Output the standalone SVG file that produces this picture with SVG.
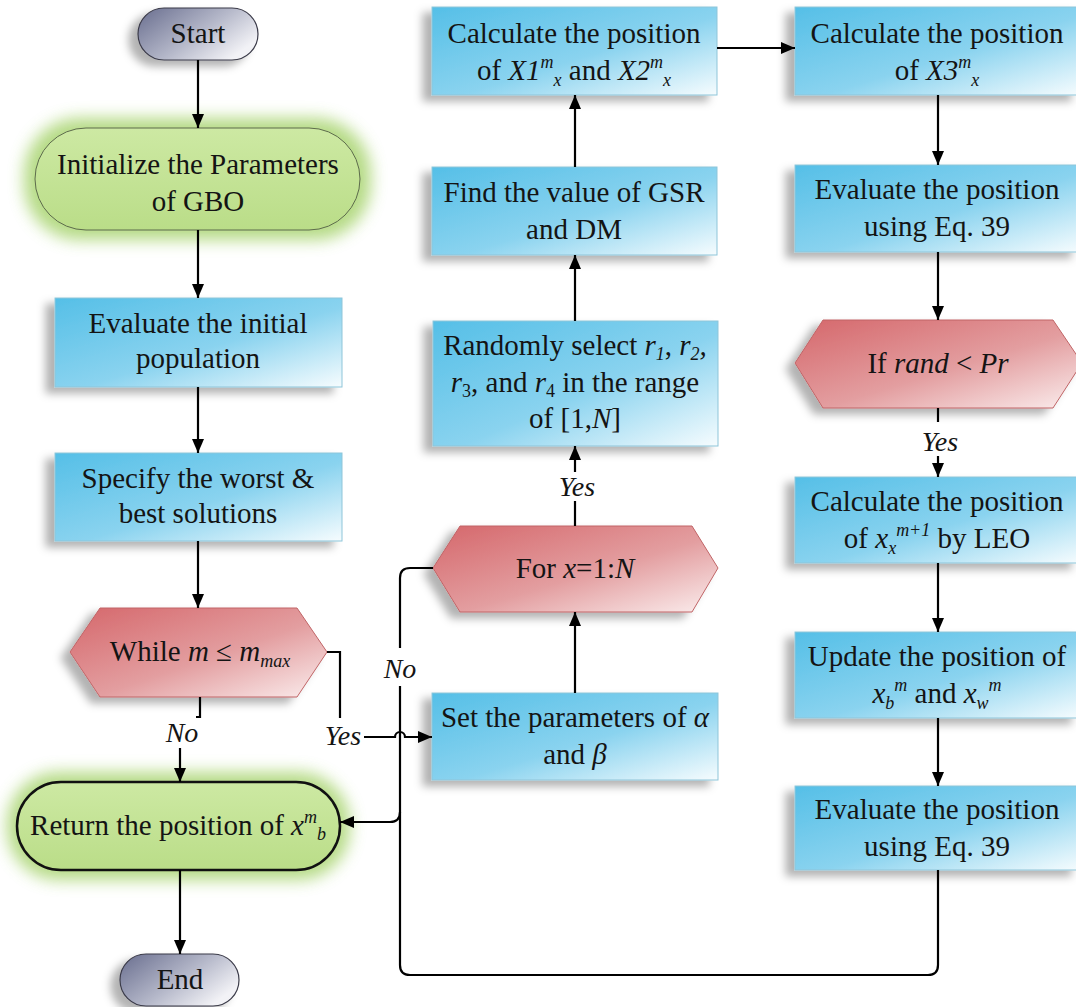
<svg xmlns="http://www.w3.org/2000/svg" width="1076" height="1007" viewBox="0 0 1076 1007">
<defs>
  <linearGradient id="gb" x1="0" y1="0" x2="1" y2="1">
    <stop offset="0" stop-color="#55bfe7"/>
    <stop offset="0.55" stop-color="#8ad3ef"/>
    <stop offset="1" stop-color="#f6fcfe"/>
  </linearGradient>
  <linearGradient id="gr" x1="0" y1="0" x2="1" y2="1">
    <stop offset="0" stop-color="#d5676b"/>
    <stop offset="0.55" stop-color="#e39ea0"/>
    <stop offset="1" stop-color="#fbeeee"/>
  </linearGradient>
  <linearGradient id="gg" x1="0" y1="0" x2="0" y2="1">
    <stop offset="0" stop-color="#cde9a3"/>
    <stop offset="1" stop-color="#badd88"/>
  </linearGradient>
  <linearGradient id="gs" x1="0" y1="0" x2="1" y2="0.6">
    <stop offset="0" stop-color="#686d8e"/>
    <stop offset="0.6" stop-color="#b7bacb"/>
    <stop offset="1" stop-color="#f2f2f6"/>
  </linearGradient>
  <filter id="sh" x="-20%" y="-30%" width="140%" height="170%">
    <feGaussianBlur in="SourceAlpha" stdDeviation="4"/>
    <feOffset dx="-9" dy="6" result="b"/>
    <feFlood flood-color="#000" flood-opacity="0.3"/>
    <feComposite in2="b" operator="in"/>
    <feMerge><feMergeNode/><feMergeNode in="SourceGraphic"/></feMerge>
  </filter>
  <filter id="glow" x="-20%" y="-40%" width="140%" height="180%">
    <feGaussianBlur stdDeviation="8"/>
  </filter>
  <marker id="ah" viewBox="0 0 14 12" refX="14" refY="6" markerWidth="14" markerHeight="12" markerUnits="userSpaceOnUse" orient="auto">
    <path d="M0,0 L14,6 L0,12 z" fill="#000"/>
  </marker>
</defs>
<style>
  .t{font-family:"Liberation Serif","Times New Roman",serif;font-size:29px;fill:#141414;text-anchor:middle}
  .i{font-style:italic}
  .s{font-size:18px}
  .box{fill:url(#gb);stroke:#8ec5d9;stroke-width:1;filter:url(#sh)}
  .hex{fill:url(#gr);stroke:#c06466;stroke-width:1;filter:url(#sh)}
  .term{fill:url(#gs);stroke:#3a3a48;stroke-width:1.2;filter:url(#sh)}
  .glow{fill:#a8d470;opacity:0.85;filter:url(#glow)}
  .c{fill:none;stroke:#000;stroke-width:2.2}
  .a{marker-end:url(#ah)}
  .lbl{font-style:italic;font-size:28px}
</style>

<g id="start">
  <rect class="term" x="138" y="8" width="120" height="52" rx="26"/>
  <text class="t" x="198" y="43">Start</text>
</g>

<g id="init">
  <rect class="glow" x="24" y="118" width="347" height="122" rx="56"/>
  <rect x="35" y="128" width="325" height="102" rx="51" fill="url(#gg)" stroke="#5d6b4c" stroke-width="1"/>
  <text class="t" x="198" y="174" font-size="31">Initialize the Parameters</text>
  <text class="t" x="198" y="211" font-size="31">of GBO</text>
</g>

<g id="eval-init">
  <rect class="box" x="55" y="298" width="287" height="89"/>
  <text class="t" x="198" y="333">Evaluate the initial</text>
  <text class="t" x="198" y="368">population</text>
</g>

<g id="specify">
  <rect class="box" x="55" y="453" width="287" height="88"/>
  <text class="t" x="198" y="488">Specify the worst &amp;</text>
  <text class="t" x="198" y="523">best solutions</text>
</g>

<g id="while">
  <polygon class="hex" points="70,652 100,608 297,608 327,652 297,697 100,697"/>
  <text class="t" x="200" y="661">While <tspan class="i">m</tspan> ≤ <tspan class="i">m</tspan><tspan class="i" font-size="18" dy="6">max</tspan></text>
</g>

<g id="return">
  <rect class="glow" x="7" y="772" width="343" height="108" rx="52"/>
  <rect x="17" y="782" width="323" height="88" rx="44" fill="url(#gg)" stroke="#111" stroke-width="2.5"/>
  <text class="t" x="178" y="835" font-size="30">Return the position of <tspan class="i">x</tspan><tspan class="i s" dy="-12">m</tspan><tspan class="i s" dy="17">b</tspan></text>
</g>

<g id="end">
  <rect class="term" x="120" y="954" width="119" height="52" rx="26"/>
  <text class="t" x="180" y="989">End</text>
</g>

<g id="calc12">
  <rect class="box" x="432" y="7" width="285" height="88"/>
  <text class="t" x="574" y="43">Calculate the position</text>
  <text class="t" x="574" y="80">of <tspan class="i">X1</tspan><tspan class="i s" dy="-12">m</tspan><tspan class="i s" dy="18">x</tspan><tspan dy="-6"> and </tspan><tspan class="i">X2</tspan><tspan class="i s" dy="-12">m</tspan><tspan class="i s" dy="18">x</tspan></text>
</g>

<g id="find">
  <rect class="box" x="432" y="167" width="285" height="88"/>
  <text class="t" x="574" y="202">Find the value of GSR</text>
  <text class="t" x="574" y="239">and DM</text>
</g>

<g id="random">
  <rect class="box" x="433" y="321" width="285" height="125"/>
  <text class="t" x="575" y="355">Randomly select <tspan class="i">r</tspan><tspan class="i s" dy="5">1</tspan><tspan dy="-5">, </tspan><tspan class="i">r</tspan><tspan class="i s" dy="5">2</tspan><tspan class="i" dy="-5">,</tspan></text>
  <text class="t" x="575" y="392"><tspan class="i">r</tspan><tspan class="s" dy="5">3</tspan><tspan dy="-5">, and </tspan><tspan class="i">r</tspan><tspan class="s" dy="5">4</tspan><tspan dy="-5"> in the range</tspan></text>
  <text class="t" x="575" y="428">of [1,<tspan class="i">N</tspan>]</text>
</g>

<g id="for">
  <polygon class="hex" points="433,568 460,526 692,526 718,568 692,612 460,612"/>
  <text class="t" x="575" y="578">For <tspan class="i">x</tspan>=1:<tspan class="i">N</tspan></text>
</g>

<g id="set">
  <rect class="box" x="432" y="693" width="286" height="87"/>
  <text class="t" x="575" y="727">Set the parameters of <tspan class="i">α</tspan></text>
  <text class="t" x="575" y="764">and <tspan class="i">β</tspan></text>
</g>

<g id="calc3">
  <rect class="box" x="795" y="7" width="285" height="88"/>
  <text class="t" x="937" y="43">Calculate the position</text>
  <text class="t" x="937" y="80">of <tspan class="i">X3</tspan><tspan class="i s" dy="-12">m</tspan><tspan class="i s" dy="18">x</tspan></text>
</g>

<g id="eval1">
  <rect class="box" x="795" y="165" width="285" height="87"/>
  <text class="t" x="937" y="199">Evaluate the position</text>
  <text class="t" x="937" y="236">using Eq. 39</text>
</g>

<g id="if">
  <polygon class="hex" points="795,363 823,320 1053,320 1082,363 1053,408 823,408"/>
  <text class="t" x="938" y="373">If <tspan class="i">rand</tspan> &lt; <tspan class="i">Pr</tspan></text>
</g>

<g id="leo">
  <rect class="box" x="795" y="477" width="285" height="86"/>
  <text class="t" x="937" y="511">Calculate the position</text>
  <text class="t" x="937" y="548">of <tspan class="i">x</tspan><tspan class="i s" dy="6">x</tspan><tspan class="i s" dy="-18">m+1</tspan><tspan dy="12"> by LEO</tspan></text>
</g>

<g id="update">
  <rect class="box" x="795" y="632" width="285" height="86"/>
  <text class="t" x="937" y="666">Update the position of</text>
  <text class="t" x="937" y="703"><tspan class="i">x</tspan><tspan class="i s" dy="6">b</tspan><tspan class="i s" dy="-18">m</tspan><tspan dy="12"> and </tspan><tspan class="i">x</tspan><tspan class="i s" dy="6">w</tspan><tspan class="i s" dy="-18">m</tspan></text>
</g>

<g id="eval2">
  <rect class="box" x="795" y="786" width="285" height="84"/>
  <text class="t" x="937" y="819">Evaluate the position</text>
  <text class="t" x="937" y="856">using Eq. 39</text>
</g>

<g id="connectors">
  <path class="c a" d="M198,60 V128"/>
  <path class="c a" d="M198,230 V298"/>
  <path class="c a" d="M198,387 V453"/>
  <path class="c a" d="M198,541 V608"/>
  <path class="c" d="M327,652 H340 V718"/>
  <text class="t lbl" x="343" y="745">Yes</text>
  <path class="c a" d="M364,737 H395 A5,5 0 0 1 405,737 H432"/>
  <path class="c" d="M200,697 V717 H196"/>
  <text class="t lbl" x="182" y="742">No</text>
  <path class="c a" d="M180,748 V782"/>
  <path class="c a" d="M180,870 V954"/>
  <path class="c" d="M433,568 H410 Q400,568 400,578 V648"/>
  <text class="t lbl" x="400" y="678">No</text>
  <path class="c" d="M400,686 V965 Q400,975 410,975 H928 Q938,975 938,965 V870"/>
  <path class="c a" d="M400,812 Q400,822 390,822 H340"/>
  <path class="c" d="M575,526 V501"/>
  <text class="t lbl" x="577" y="496">Yes</text>
  <path class="c a" d="M575,472 V446"/>
  <path class="c a" d="M575,693 V612"/>
  <path class="c a" d="M575,321 V255"/>
  <path class="c a" d="M575,167 V95"/>
  <path class="c a" d="M717,48 H795"/>
  <path class="c a" d="M938,95 V165"/>
  <path class="c a" d="M938,252 V320"/>
  <path class="c" d="M938,408 V422"/>
  <text class="t lbl" x="940" y="451">Yes</text>
  <path class="c a" d="M938,456 V477"/>
  <path class="c a" d="M938,563 V632"/>
  <path class="c a" d="M938,718 V786"/>
</g>
</svg>
